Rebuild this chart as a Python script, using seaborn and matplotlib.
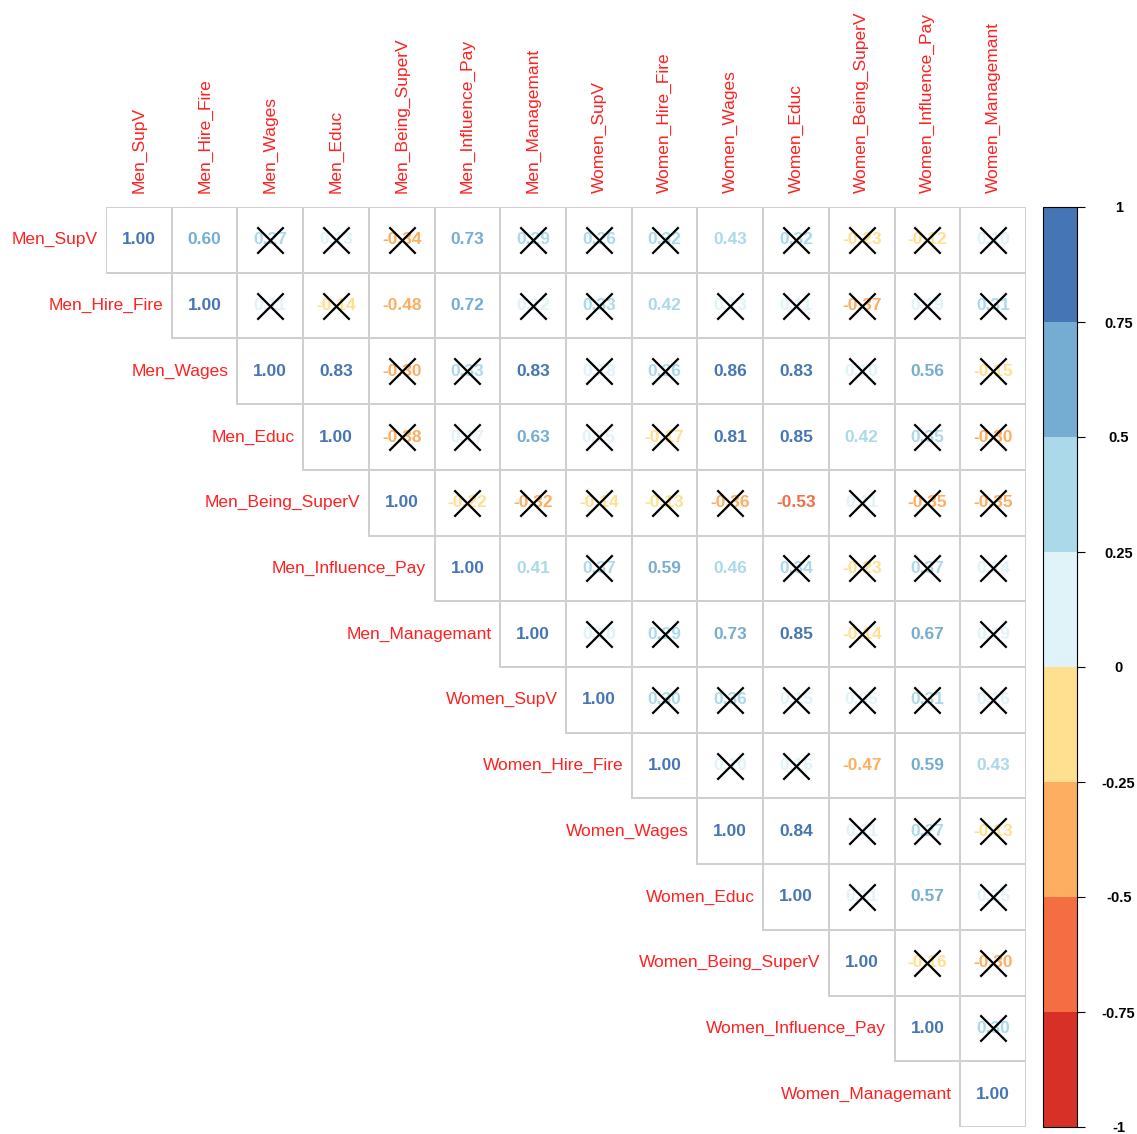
import numpy as np
import pandas as pd
import matplotlib
matplotlib.use("Agg")
import matplotlib.pyplot as plt
from matplotlib.colors import ListedColormap, BoundaryNorm, to_rgba
import matplotlib as mpl
import seaborn as sns

# ---------------- data ----------------
variables = ["Men_SupV", "Men_Hire_Fire", "Men_Wages", "Men_Educ", "Men_Being_SuperV",
             "Men_Influence_Pay", "Men_Managemant", "Women_SupV", "Women_Hire_Fire",
             "Women_Wages", "Women_Educ", "Women_Being_SuperV", "Women_Influence_Pay",
             "Women_Managemant"]

# upper-triangle correlations, row i lists columns i+1 .. 13
r_men_supv = [0.60, 0.27, 0.13, -0.34, 0.73, 0.29, 0.26, 0.32, 0.43, 0.32, -0.23, -0.12, 0.10]
r_men_hire = [0.11, -0.14, -0.48, 0.72, 0.12, 0.33, 0.42, 0.13, 0.11, -0.37, 0.19, 0.31]
r_men_wages = [0.83, -0.30, 0.33, 0.83, 0.18, 0.26, 0.86, 0.83, 0.10, 0.56, -0.15]
r_men_educ = [-0.38, 0.17, 0.63, 0.15, -0.17, 0.81, 0.85, 0.42, 0.35, -0.30]
r_men_being = [-0.22, -0.32, -0.14, -0.13, -0.36, -0.53, 0.11, -0.35, -0.35]
r_men_infl = [0.41, 0.37, 0.59, 0.46, 0.34, -0.23, 0.37, 0.14]
r_men_mgmt = [0.10, 0.29, 0.73, 0.85, -0.14, 0.67, 0.19]
r_wom_supv = [0.30, 0.36, 0.15, 0.05, 0.31, 0.16]
r_wom_hire = [0.10, 0.16, -0.47, 0.59, 0.43]
r_wom_wages = [0.84, 0.11, 0.27, -0.13]
r_wom_educ = [0.11, 0.57, 0.15]
r_wom_being = [-0.16, -0.30]
r_wom_infl = [0.30]

# 1 = not significant (crossed out)
x_men_supv = [0, 1, 1, 1, 0, 1, 1, 1, 0, 1, 1, 1, 1]
x_men_hire = [1, 1, 0, 0, 1, 1, 0, 1, 1, 1, 1, 1]
x_men_wages = [0, 1, 1, 0, 1, 1, 0, 0, 1, 0, 1]
x_men_educ = [1, 1, 0, 1, 1, 0, 0, 0, 1, 1]
x_men_being = [1, 1, 1, 1, 1, 0, 1, 1, 1]
x_men_infl = [0, 1, 0, 0, 1, 1, 1, 1]
x_men_mgmt = [1, 1, 0, 0, 1, 0, 1]
x_wom_supv = [1, 1, 1, 1, 1, 1]
x_wom_hire = [1, 1, 0, 0, 0]
x_wom_wages = [0, 1, 1, 1]
x_wom_educ = [1, 0, 1]
x_wom_being = [1, 1]
x_wom_infl = [1]

rows_r = [r_men_supv, r_men_hire, r_men_wages, r_men_educ, r_men_being, r_men_infl,
          r_men_mgmt, r_wom_supv, r_wom_hire, r_wom_wages, r_wom_educ, r_wom_being, r_wom_infl]
rows_x = [x_men_supv, x_men_hire, x_men_wages, x_men_educ, x_men_being, x_men_infl,
          x_men_mgmt, x_wom_supv, x_wom_hire, x_wom_wages, x_wom_educ, x_wom_being, x_wom_infl]

bin_colors = ["#D73027", "#F46D43", "#FDAE61", "#FEE090",
              "#E0F3F8", "#ABD9E9", "#74ADD1", "#4575B4"]
bar_ticks = [-1, -0.75, -0.5, -0.25, 0, 0.25, 0.5, 0.75, 1]

# ---------------- build matrices ----------------
n = len(variables)
corr = np.eye(n)
insig = np.zeros((n, n), dtype=bool)
for i, (rv, xv) in enumerate(zip(rows_r, rows_x)):
    for k, (v, f) in enumerate(zip(rv, xv)):
        j = i + 1 + k
        corr[i, j] = corr[j, i] = v
        insig[i, j] = bool(f)
df = pd.DataFrame(corr, index=variables, columns=variables)
mask = np.tril(np.ones((n, n), dtype=bool), k=-1)
annot = np.vectorize(lambda v: f"{v:.2f}")(corr)

def col_of(v):
    idx = min(int((v + 1) / 0.25), len(bin_colors) - 1)
    return bin_colors[max(idx, 0)]

# ---------------- plot ----------------
plt.rcParams["font.family"] = ["Liberation Sans", "DejaVu Sans"]
W, H = 1137, 1134
fig = plt.figure(figsize=(W / 100, H / 100), dpi=100)
ax = fig.add_axes([106 / W, 1 - 1127 / H, 920 / W, 920 / H])

sns.heatmap(df, mask=mask, cmap=ListedColormap(["white"]), cbar=False,
            annot=annot, fmt="", annot_kws={"weight": "bold", "size": 12.5},
            linewidths=1.3, linecolor="#CFCFCF", ax=ax)

# hide the borders of the masked (lower-triangle) cells
mesh = ax.collections[0]
edge = np.array([to_rgba("#CFCFCF")] * (n * n))
edge[mask.ravel(), 3] = 0.0
mesh.set_edgecolor(edge)

for t in ax.texts:
    x, y = t.get_position()
    i, j = int(y), int(x)
    t.set_color(col_of(corr[i, j]))

ii, jj = np.nonzero(insig)
ax.scatter(jj + 0.5, ii + 0.5, marker="x", s=360, color="black",
           linewidths=1.6, zorder=5)

ax.xaxis.tick_top()
ax.set_xticks(np.arange(n) + 0.5)
ax.set_xticklabels(variables, rotation=90, color="#FF2020", fontsize=12.5)
ax.tick_params(axis="x", length=0, pad=10)
ax.set_yticks([])
ax.set_xlabel("")
ax.set_ylabel("")
for i, name in enumerate(variables):
    ax.text(i - 0.13, i + 0.5, name, ha="right", va="center",
            color="#FF2020", fontsize=12.5)
for s in ax.spines.values():
    s.set_visible(False)

# colorbar
cax = fig.add_axes([1043 / W, 1 - 1127 / H, 34 / W, 920 / H])
cmap = ListedColormap(bin_colors)
norm = BoundaryNorm(bar_ticks, cmap.N)
cb = mpl.colorbar.ColorbarBase(cax, cmap=cmap, norm=norm, ticks=bar_ticks,
                               orientation="vertical")
cb.outline.set_linewidth(0.8)
cb.ax.set_yticklabels([f"{v:g}" for v in bar_ticks])
cb.ax.tick_params(length=6, width=0.8, pad=24, labelsize=10.5)
for lab in cb.ax.get_yticklabels():
    lab.set_horizontalalignment("center")
    lab.set_fontweight("bold")

fig.savefig("out.png", dpi=100)
